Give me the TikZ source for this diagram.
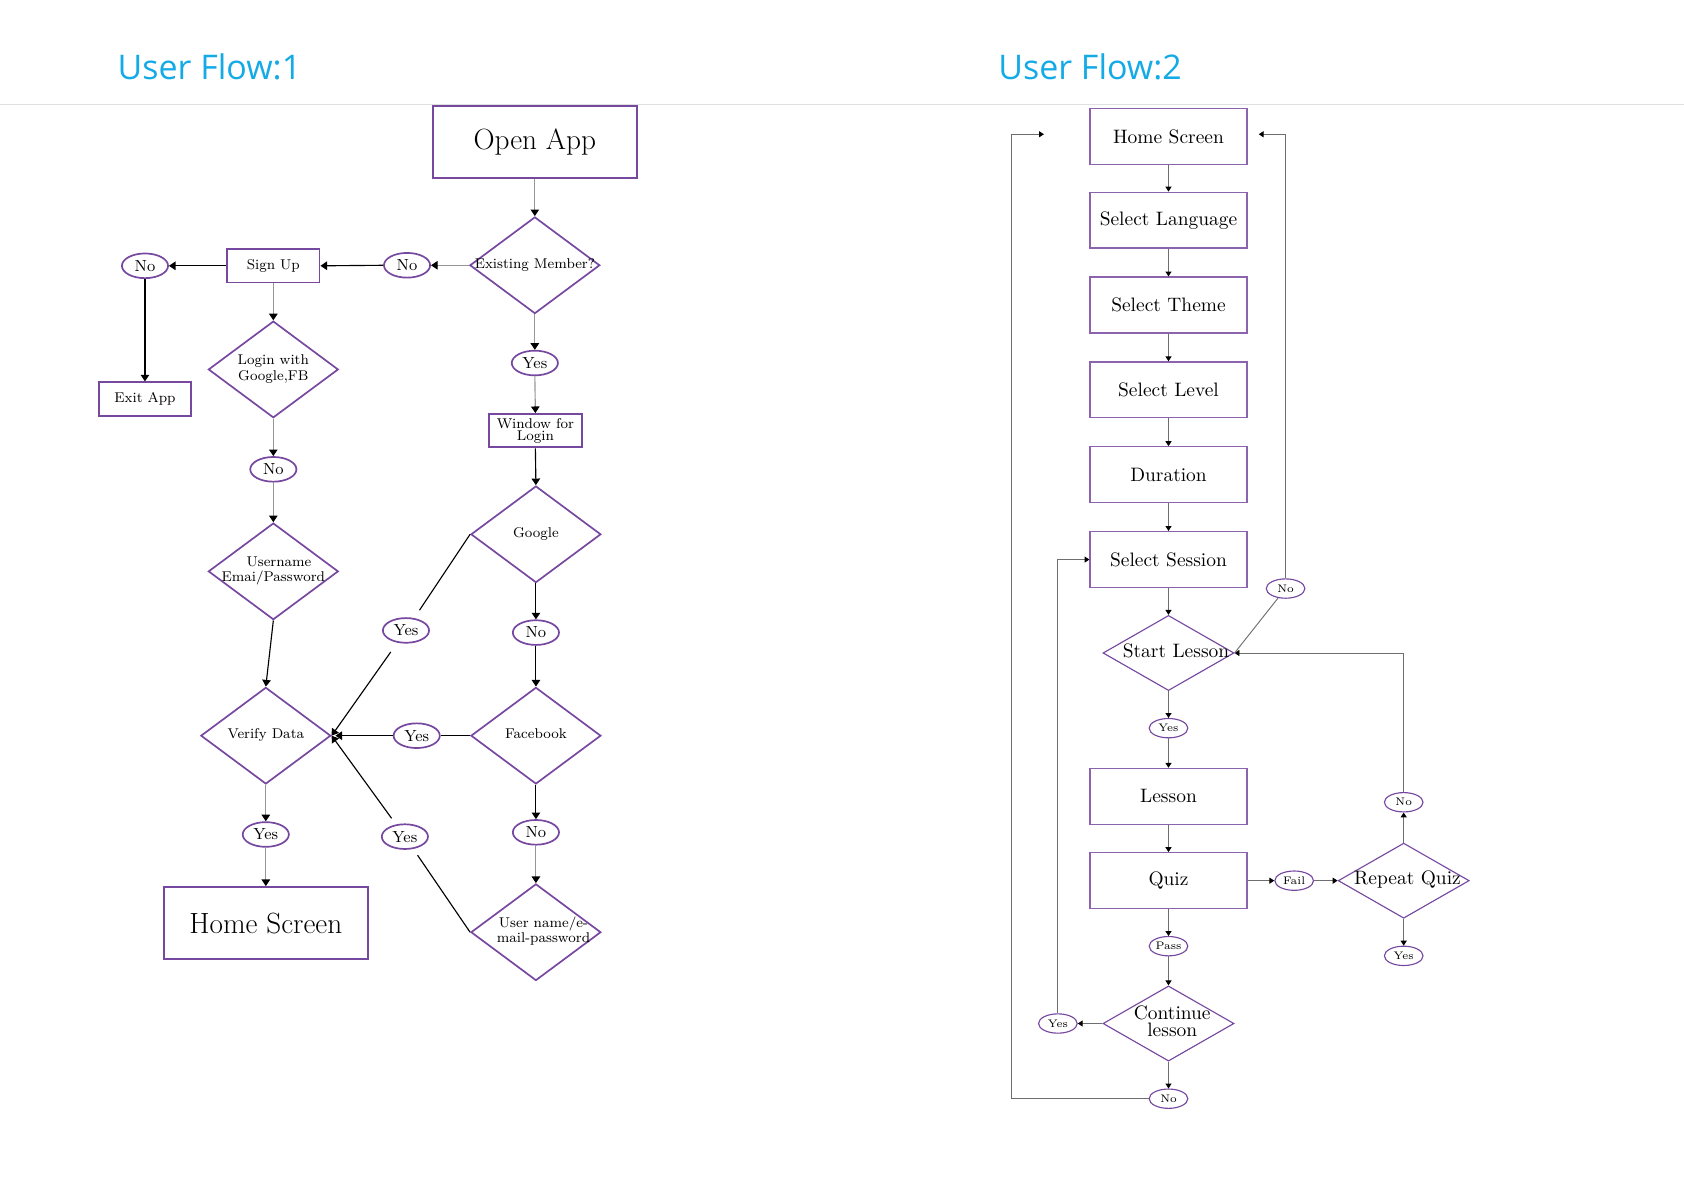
\documentclass[tikz,border=0pt]{standalone}
\usepackage{fontspec}
\usepackage{xcolor}
\usetikzlibrary{shapes.geometric, arrows.meta}

\newfontfamily\titlefont{Open Sans}
\definecolor{flowpurple}{RGB}{118,72,160}
\definecolor{flowblue}{RGB}{20,170,230}
\definecolor{linegray}{RGB}{150,150,150}
\definecolor{leadgray}{RGB}{110,110,110}
\newcommand{\choicetext}[1]{\makebox[0pt]{\begin{tabular}{@{}c@{}}#1\end{tabular}}}

\begin{document}
\begin{tikzpicture}[x=0.02cm, y=-0.02cm,
    heading/.style={font=\titlefont\fontsize{18}{20}\selectfont, text=flowblue, inner sep=0pt},
    bigbox/.style={draw=flowpurple, line width=1.1pt, inner sep=0pt, minimum width=3.8cm, minimum height=1.34cm, font=\fontsize{15.5}{17}\selectfont},
    smallbox/.style={draw=flowpurple, line width=1pt, inner sep=0pt, minimum width=1.72cm, minimum height=0.62cm, align=center, font=\fontsize{7.5}{7.5}\selectfont},
    choice/.style={diamond, draw=flowpurple, line width=0.9pt, inner sep=0pt, minimum width=2.42cm, minimum height=1.8cm, font=\fontsize{7.5}{8}\selectfont},
    answer/.style={ellipse, draw=flowpurple, line width=0.9pt, inner sep=0pt, minimum width=0.86cm, minimum height=0.46cm, font=\fontsize{8.5}{9}\selectfont},
    screen/.style={draw=flowpurple!85, line width=0.7pt, inner sep=0pt, minimum width=2.92cm, minimum height=1.04cm, font=\fontsize{10.3}{12}\selectfont},
    check/.style={diamond, draw=flowpurple, line width=0.6pt, inner sep=0pt, minimum width=2.44cm, minimum height=1.4cm, font=\fontsize{10.3}{11}\selectfont},
    reply/.style={ellipse, draw=flowpurple, line width=0.6pt, inner sep=0pt, minimum width=0.72cm, minimum height=0.36cm, font=\fontsize{5.8}{6}\selectfont},
    link/.style={-{Triangle[length=3.5pt, width=4.5pt, color=black]}, line width=0.6pt},
    linkgray/.style={link, draw=linegray},
    lead/.style={-{Triangle[length=2.6pt, width=3.2pt, color=black]}, draw=leadgray, line width=0.5pt}]
    \useasboundingbox (0,0) rectangle (1568,1109);

    % Headings
    \node[heading] (title1) at (195,62) {User Flow:1};
    \node[heading] (title2) at (1015,62) {User Flow:2};
    \draw[black!12] (0,97) -- (1568,97);

    % User flow 1
    \node[bigbox] (openapp) at (498,132.5) {Open App};
    \node[choice] (member) at (498,247) {\choicetext{Existing Member?}};
    \node[answer] (nomember) at (379,247) {No};
    \node[smallbox] (signup) at (254.5,247.5) {Sign Up};
    \node[answer] (nosignup) at (135,247.5) {No};
    \node[smallbox] (exitapp) at (135,371.5) {Exit App};
    \node[choice] (social) at (254.5,344) {\choicetext{Login with\\Google,FB}};
    \node[answer] (nosocial) at (254.5,437) {No};
    \node[choice] (userpass) at (254.5,532) {\choicetext{\hspace{6pt}Username\\Emai/Password}};
    \node[choice] (verify) at (247.5,685) {\choicetext{Verify Data}};
    \node[answer] (yesverify) at (247.5,777) {Yes};
    \node[bigbox] (home1) at (247.5,859.5) {Home Screen};

    \node[answer] (yesmember) at (498,338) {Yes};
    \node[smallbox] (window) at (498.5,401) {Window for\\[-1pt]Login};
    \node[choice] (google) at (499,497.5) {\choicetext{Google}};
    \node[answer] (yesgoogle) at (378,587) {Yes};
    \node[answer] (nogoogle) at (499,589) {No};
    \node[choice] (facebook) at (499,685) {\choicetext{Facebook}};
    \node[answer] (yesfacebook) at (388,685) {Yes};
    \node[answer] (nofacebook) at (499,775) {No};
    \node[choice] (uname) at (499,868) {\choicetext{\hspace{8pt}User name/e-\\\hspace{8pt}mail-password}};
    \node[answer] (yesuname) at (377,779) {Yes};

    \draw[linkgray] (openapp.south) -- (member.north);
    \draw[linkgray] (member.west) -- (nomember.east);
    \draw[link] (nomember.west) -- (signup.east);
    \draw[link] (signup.west) -- (nosignup.east);
    \draw[link] (nosignup.south) -- (exitapp.north);
    \draw[linkgray] (signup.south) -- (social.north);
    \draw[linkgray] (social.south) -- (nosocial.north);
    \draw[linkgray] (nosocial.south) -- (userpass.north);
    \draw[link] (userpass.south) -- (verify.north);
    \draw[linkgray] (verify.south) -- (yesverify.north);
    \draw[linkgray] (yesverify.south) -- (home1.north);

    \draw[linkgray] (member.south) -- (yesmember.north);
    \draw[linkgray] (yesmember.south) -- (window.north);
    \draw[link] (window.south) -- (google.north);
    \draw[link] (google.south) -- (nogoogle.north);
    \draw[link] (nogoogle.south) -- (facebook.north);
    \draw[link] (facebook.south) -- (nofacebook.north);
    \draw[linkgray] (nofacebook.south) -- (uname.north);

    % Yes answers into Verify Data
    \draw[line width=0.6pt, shorten >=5pt] (google.west) -- (yesgoogle);
    \draw[link, shorten <=6pt] (yesgoogle) -- (verify.east);
    \draw[line width=0.6pt] (facebook.west) -- (yesfacebook);
    \draw[link, shorten >=2pt] (yesfacebook) -- (verify.east);
    \draw[line width=0.6pt, shorten >=4pt] (uname.west) -- (yesuname);
    \draw[link, shorten <=4pt] (yesuname) -- (verify.east);

    % User flow 2
    \node[screen] (home2) at (1088,127) {Home Screen};
    \node[screen] (language) at (1088,205) {Select Language};
    \node[screen] (theme) at (1088,284) {Select Theme};
    \node[screen] (level) at (1088,363) {Select Level};
    \node[screen] (duration) at (1088,442) {Duration};
    \node[screen] (session) at (1088,521) {Select Session};
    \node[check] (start) at (1088,608) {\choicetext{\hspace{8pt}Start Lesson}};
    \node[reply] (yesstart) at (1088,678) {Yes};
    \node[reply] (nostart) at (1197,548) {No};
    \node[screen] (lesson) at (1088,741.5) {Lesson};
    \node[screen] (quiz) at (1088,820) {Quiz};
    \node[reply] (fail) at (1205,820) {Fail};
    \node[check] (repeat) at (1307,820) {\choicetext{\hspace{4pt}Repeat Quiz}};
    \node[reply] (norepeat) at (1307,747) {No};
    \node[reply] (yesrepeat) at (1307,890) {Yes};
    \node[reply] (pass) at (1088,881) {Pass};
    \node[check] (continue) at (1088,953) {\choicetext{\hspace{4pt}Continue\\[-2pt]\hspace{4pt}lesson}};
    \node[reply] (yescont) at (985,953) {Yes};
    \node[reply] (nocont) at (1088,1023) {No};
    \coordinate (homeleft) at (972,125);
    \coordinate (homeright) at (1172,125);

    \draw[lead] (home2.south) -- (language.north);
    \draw[lead] (language.south) -- (theme.north);
    \draw[lead] (theme.south) -- (level.north);
    \draw[lead] (level.south) -- (duration.north);
    \draw[lead] (duration.south) -- (session.north);
    \draw[lead] (session.south) -- (start.north);
    \draw[lead] (start.south) -- (yesstart.north);
    \draw[lead] (yesstart.south) -- (lesson.north);
    \draw[lead] (lesson.south) -- (quiz.north);
    \draw[lead] (quiz.south) -- (pass.north);
    \draw[lead] (pass.south) -- (continue.north);
    \draw[lead] (quiz.east) -- (fail.west);
    \draw[lead] (fail.east) -- (repeat.west);
    \draw[lead] (repeat.north) -- (norepeat.south);
    \draw[lead] (repeat.south) -- (yesrepeat.north);
    \draw[lead] (continue.west) -- (yescont.east);
    \draw[lead] (continue.south) -- (nocont.north);

    % Loops back
    \draw[lead] (norepeat.north) |- (start.east);
    \draw[lead] (yescont.north) |- (session.west);
    \draw[lead] (nocont.west) -- ++(-128,0) |- (homeleft);
    \draw[draw=leadgray, line width=0.5pt] (start.east) -- (nostart);
    \draw[lead] (nostart.north) |- (homeright);
\end{tikzpicture}
\end{document}
